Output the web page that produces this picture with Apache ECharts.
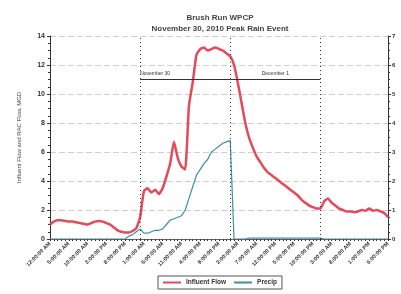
<!DOCTYPE html>
<html>
<head>
    <meta charset="utf-8"/>
    <title>Brush Run WPCP</title>
    <script src="https://cdn.jsdelivr.net/npm/echarts@6/dist/echarts.min.js"></script>
    <style>
        html, body { margin: 0; padding: 0; background: #fff; }
        #chart { width: 401px; height: 294px; }
    </style>
</head>
<body>
<div id="chart"></div>
<script>
    // hourly readings, starting 12:00 AM Nov 29
    var startHour = 0;
    var hourCount = 91;

    // influent flow, MGD (left axis)
    var influentFlow = [
        1.0, 1.2, 1.3, 1.3, 1.25, 1.2, 1.2, 1.15, 1.1, 1.05,
        1.0, 1.1, 1.2, 1.25, 1.2, 1.1, 1.0, 0.8, 0.6, 0.5,
        0.45, 0.45, 0.55, 0.75, 1.5, 3.3, 3.5, 3.2, 3.4, 3.1,
        3.5, 4.3, 5.2, 6.7, 5.6, 5.0, 4.8, 9.2, 10.8, 12.7,
        13.1, 13.2, 13.0, 13.1, 13.2, 13.1, 13.0, 12.8, 12.6, 12.0,
        10.8, 9.4, 8.0, 7.0, 6.3, 5.7, 5.3, 4.9, 4.6, 4.4,
        4.2, 4.0, 3.8, 3.6, 3.4, 3.2, 3.0, 2.7, 2.5, 2.3,
        2.2, 2.1, 2.1, 2.6, 2.8, 2.5, 2.3, 2.1, 2.0, 1.9,
        1.9, 1.85, 1.9, 2.0, 1.95, 2.1, 1.95, 2.0, 1.9, 1.8,
        1.5
    ];

    // cumulative precip, inches (right axis)
    var precip = [
        0, 0, 0, 0, 0, 0, 0, 0, 0, 0,
        0, 0, 0, 0, 0, 0, 0, 0, 0, 0,
        0, 0.1, 0.15, 0.25, 0.35, 0.2, 0.2, 0.25, 0.3, 0.3,
        0.35, 0.5, 0.65, 0.7, 0.75, 0.8, 1.0, 1.4, 1.8, 2.2,
        2.4, 2.6, 2.75, 3.0, 3.1, 3.2, 3.3, 3.35, 3.4, 0,
        0, 0, 0, 0.03, 0.03, 0.03, 0.03, 0.03, 0.03, 0.03,
        0.03, 0.03, 0.03, 0.03, 0.03, 0.03, 0.03, 0.03, 0.03, 0.03,
        0.03, 0.03, 0.03, 0, 0, 0, 0, 0, 0, 0,
        0, 0, 0, 0, 0, 0, 0, 0, 0, 0,
        0
    ];

    var dayBreaks = [24, 48, 72];
    var dayNames = ['November 30', 'December 1'];
    var dayBarLevel = 11;

    function fmtHour(h) {
        var hh = h % 24;
        var ap = hh < 12 ? 'AM' : 'PM';
        var h12 = hh % 12 === 0 ? 12 : hh % 12;
        return h12 + ':00:00 ' + ap;
    }

    var categories = [];
    for (var i = 0; i < hourCount; i++) {
        categories.push(fmtHour(startHour + i));
    }

    var myChart = echarts.init(document.getElementById('chart'));
    var option = {
        animation: false,
        textStyle: {fontFamily: 'Liberation Sans'},
        title: {
            text: 'Brush Run WPCP\nNovember 30, 2010 Peak Rain Event',
            left: 215,
            textAlign: 'center',
            top: 7,
            textStyle: {fontSize: 8, fontWeight: 'bold', color: '#444', lineHeight: 11}
        },
        legend: {
            bottom: 5,
            left: 158,
            itemWidth: 18,
            itemHeight: 2,
            itemGap: 8,
            padding: [3, 5],
            borderColor: '#555',
            borderWidth: 1,
            icon: 'rect',
            textStyle: {fontSize: 6.5, fontWeight: 'bold', color: '#333'},
            data: ['Influent Flow', 'Precip']
        },
        grid: {left: 50, right: 13, top: 36, bottom: 55},
        xAxis: [{
            type: 'category',
            boundaryGap: false,
            data: categories,
            axisLine: {lineStyle: {color: '#333', width: 1}},
            axisTick: {interval: 0, length: 2, lineStyle: {color: '#333'}},
            axisLabel: {interval: 4, rotate: 45, fontSize: 5.5, fontWeight: 'bold', color: '#333', margin: 4},
            splitLine: {show: false}
        }, {
            // top frame line
            type: 'category',
            position: 'top',
            boundaryGap: false,
            data: categories,
            axisLine: {lineStyle: {color: '#666', width: 1}},
            axisTick: {show: false},
            axisLabel: {show: false},
            splitLine: {show: false}
        }],
        yAxis: [{
            type: 'value',
            min: 0,
            max: 14,
            interval: 2,
            name: 'Influent Flow and RAC Flow, MGD',
            nameLocation: 'middle',
            nameGap: 28,
            nameTextStyle: {fontSize: 6, color: '#444'},
            axisLine: {show: true, lineStyle: {color: '#333'}},
            axisTick: {show: true, length: 3, lineStyle: {color: '#333'}},
            minorTick: {show: true, splitNumber: 4, length: 2, lineStyle: {color: '#333'}},
            axisLabel: {fontSize: 7, fontWeight: 'bold', color: '#333', margin: 5},
            splitLine: {lineStyle: {color: '#cfcfcf', type: [6, 3], width: 1}}
        }, {
            type: 'value',
            min: 0,
            max: 7,
            interval: 1,
            axisLine: {show: true, lineStyle: {color: '#333'}},
            axisTick: {show: true, length: 3, lineStyle: {color: '#333'}},
            minorTick: {show: true, splitNumber: 4, length: 2, lineStyle: {color: '#333'}},
            axisLabel: {fontSize: 6, fontWeight: 'bold', color: '#333', margin: 4},
            splitLine: {show: false}
        }],
        series: [{
            name: 'Influent Flow',
            type: 'line',
            yAxisIndex: 0,
            data: influentFlow,
            showSymbol: false,
            smooth: 0.15,
            itemStyle: {color: '#e6495a'},
            lineStyle: {color: '#e6495a', width: 2.5},
            z: 3,
            markLine: {
                silent: true,
                symbol: 'none',
                animation: false,
                lineStyle: {color: '#333', type: [1, 3], width: 1},
                label: {show: false},
                data: dayBreaks.map(function (d) { return {xAxis: d}; })
            }
        }, {
            name: 'Precip',
            type: 'line',
            yAxisIndex: 1,
            data: precip,
            showSymbol: false,
            itemStyle: {color: '#3d8fa6'},
            lineStyle: {color: '#3d8fa6', width: 1.2},
            z: 2,
            markLine: {
                silent: true,
                symbol: 'none',
                animation: false,
                lineStyle: {color: '#333', type: 'solid', width: 1},
                label: {fontSize: 5, color: '#333', distance: [0, 3]},
                data: [
                    [{coord: [dayBreaks[0], dayBarLevel / 2], name: dayNames[0],
                        label: {position: 'insideStartTop'}},
                        {coord: [dayBreaks[1], dayBarLevel / 2]}],
                    [{coord: [dayBreaks[1], dayBarLevel / 2], name: dayNames[1],
                        label: {position: 'insideMiddleTop'}},
                        {coord: [dayBreaks[2], dayBarLevel / 2]}]
                ]
            }
        }]
    };
    myChart.setOption(option);
</script>
</body>
</html>
